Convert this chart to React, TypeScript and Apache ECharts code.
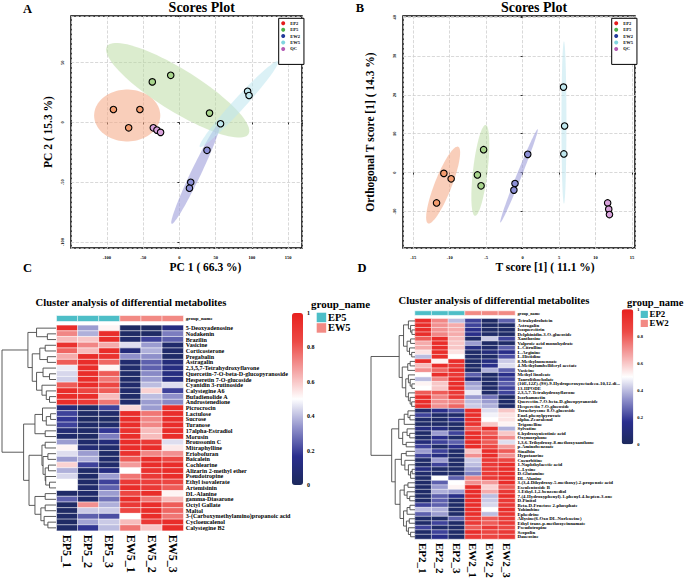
import React, { useEffect, useRef } from "react";
import * as echarts from "echarts";

const FONT = "'Liberation Serif', 'Times New Roman', serif";

// ---------- Scores plots ----------
const groups = ["EP2", "EP5", "EW2", "EW5", "QC"];
const legendColors = ["#E41A1C", "#4DAF4A", "#23399B", "#80D5DF", "#B45CB4"];
const pointColors = ["#F39C6E", "#A8D58C", "#8C90D6", "#BFE7EE", "#D9A3DC"];
const ellipseColors = [
  "rgba(244,165,130,0.55)",
  "rgba(184,218,158,0.5)",
  "rgba(150,150,215,0.55)",
  "rgba(190,230,238,0.55)",
];

// PCA scores [PC1, PC2]
const pcaEP2 = [[-91, 10.8], [-54.5, 10.8], [-70, -4.5]];
const pcaEP5 = [[-37.4, 33.9], [-12, 39.4], [41.5, 7.8]];
const pcaEW2 = [[38, -23.3], [15.6, -50], [13.8, -55]];
const pcaEW5 = [[94, 26], [96, 22.5], [56.7, -1.1]];
const pcaQC = [[-36, -4.5], [-31, -6.4], [-26, -8.3]];
// ellipses [cx, cy, ux, uy, vx, vy] (data units, two semi-axis vectors)
const pcaEllipseEP2 = [-72, 5.8, 45.6, 0, 0, 21.7];
const pcaEllipseEP5 = [-2.4, 26.9, 97.5, -36.7, 15.4, 14.8];
const pcaEllipseEW2 = [22.5, -42.7, 33.2, 42.1, 6.2, -1.8];
const pcaEllipseEW5 = [82, 15.3, 53.9, 35.8, 6.1, -3.4];
const pcaTickStep = [50, 50];

// OPLS-DA scores [T score, orthogonal T score]
const oplsEP2 = [[-10.8, -0.2], [-9.8, -1.6], [-11.8, -7.8]];
const oplsEP5 = [[-5.35, 5.9], [-6.2, -0.6], [-5.7, -3.4]];
const oplsEW2 = [[0.7, 4.7], [-1.05, -2.8], [-1.2, -4.5]];
const oplsEW5 = [[5.6, 22.0], [5.75, 12.0], [5.65, 4.8]];
const oplsQC = [[11.65, -7.8], [11.8, -9.4], [11.9, -10.8]];
const oplsEllipseEP2 = [-10.9, -3.2, 2.06, 9.87, 1.09, -0.8];
const oplsEllipseEP5 = [-5.8, 0.57, 0.73, 11.7, 0.99, -0.22];
const oplsEllipseEW2 = [-0.5, -0.85, 2.56, 12.0, 0.32, -0.24];
const oplsEllipseEW5 = [5.66, 12.9, 0, 20.9, 0.34, 0];
const oplsTickStep = [5, 10];

// ---------- Heatmap C ----------
const colsC = ["EP5_1", "EP5_2", "EP5_3", "EW5_1", "EW5_2", "EW5_3"];
const groupC = ["EP5", "EP5", "EP5", "EW5", "EW5", "EW5"];
const rowsC = [
  "5-Deoxyadenosine", "Nodakenin", "Brazilin", "Vasicine", "Corticosterone", "Pregabalin",
  "Astragalin", "2,3,5,7-Tetrahydroxyflavone", "Quercetin-7-O-beta-D-glucopyranoside",
  "Hesperetin 7-O-glucoside", "Cyanidin 3-rutinoside", "Calystegine A6", "Bufadienolide A",
  "Androstenedione", "Picrocrocin", "Lactulose", "Sucrose", "Turanose", "17alpha-Estradiol",
  "Morusin", "Broussonin C", "Mitraphylline", "Eriobofuran", "Baicalein", "Cochlearine",
  "Alizarin 2-methyl ether", "Pseudotropine", "Ethyl isovalerate", "Artemisinin", "DL-Alanine",
  "gamma-Diasarone", "Octyl Gallate", "Maltol", "3-(Carboxymethylamino)propanoic acid",
  "Cycloeucalenol", "Calystegine B2",
];
const valuesC = [
  [0.95, 0.35, 0.52, 0.02, 0.02, 0.12],
  [0.72, 0.38, 0.95, 0.03, 0.03, 0.3],
  [0.62, 0.6, 0.95, 0.05, 0.2, 0.25],
  [0.93, 0.72, 0.65, 0.45, 0.35, 0.05],
  [0.78, 0.62, 0.95, 0.1, 0.38, 0.05],
  [0.65, 0.95, 0.93, 0.33, 0.33, 0.04],
  [0.8, 0.95, 0.78, 0.06, 0.25, 0.1],
  [0.47, 0.95, 0.52, 0.05, 0.25, 0.12],
  [0.44, 0.95, 0.8, 0.04, 0.32, 0.12],
  [0.43, 0.95, 0.75, 0.04, 0.35, 0.12],
  [0.8, 0.95, 0.85, 0.05, 0.4, 0.45],
  [0.95, 0.85, 0.8, 0.05, 0.58, 0.2],
  [0.95, 0.95, 0.62, 0.04, 0.4, 0.33],
  [0.95, 0.9, 0.75, 0.05, 0.35, 0.32],
  [0.1, 0.03, 0.2, 0.57, 0.35, 0.95],
  [0.2, 0.03, 0.05, 0.95, 0.75, 0.95],
  [0.18, 0.02, 0.03, 0.95, 0.72, 0.95],
  [0.2, 0.04, 0.05, 0.95, 0.72, 0.95],
  [0.08, 0.04, 0.18, 0.93, 0.62, 0.95],
  [0.05, 0.03, 0.3, 0.95, 0.62, 0.95],
  [0.35, 0.05, 0.1, 0.95, 0.9, 0.45],
  [0.52, 0.08, 0.05, 0.95, 0.95, 0.54],
  [0.45, 0.35, 0.04, 0.93, 0.72, 0.7],
  [0.35, 0.38, 0.05, 0.8, 0.95, 0.85],
  [0.58, 0.2, 0.05, 0.68, 0.95, 0.95],
  [0.38, 0.04, 0.12, 0.5, 0.93, 0.95],
  [0.44, 0.04, 0.35, 0.75, 0.9, 0.95],
  [0.5, 0.04, 0.2, 0.9, 0.88, 0.85],
  [0.5, 0.05, 0.25, 0.95, 0.9, 0.8],
  [0.04, 0.05, 0.35, 0.85, 0.95, 0.52],
  [0.25, 0.05, 0.28, 0.95, 0.75, 0.62],
  [0.03, 0.7, 0.38, 0.9, 0.95, 0.8],
  [0.03, 0.42, 0.42, 0.85, 0.95, 0.78],
  [0.04, 0.25, 0.22, 0.5, 0.95, 0.75],
  [0.03, 0.36, 0.42, 0.62, 0.9, 0.95],
  [0.04, 0.18, 0.4, 0.75, 0.6, 0.95],
];
type Tree = number | [number, Tree, Tree];
const treeC: Tree = [10,
  [5.2, [3.6, 0, [1.6, 1, 2]],
    [4.4, [3.0, [2.0, 3, 4], [1.6, 5, 6]],
      [3.6, [2.4, 7, [1.2, 8, 9]], [2.6, 10, [1.8, 11, [1.2, 12, 13]]]]]],
  [6.0, [3.9, [2.5, 14, [1.8, [1.0, 15, 16], 17]], [2.0, 18, 19]],
    [5.0, [2.6, [2.0, 20, 21], [2.4, [1.5, 22, 23], [2.0, [1.4, 24, 25], [1.9, 26, [1.2, 27, 28]]]]],
      [3.9, [2.0, 29, 30], [2.8, [2.0, 31, 32], [2.2, 33, [1.5, 34, 35]]]]]]];

// ---------- Heatmap D ----------
const colsD = ["EP2_1", "EP2_2", "EP2_3", "EW2_1", "EW2_2", "EW2_3"];
const groupD = ["EP2", "EP2", "EP2", "EW2", "EW2", "EW2"];
const rowsD = [
  "Tetrahydrolutein", "Astragalin", "Isoquercitrin", "Delphinidin-3-O-glucoside", "Xanthosine",
  "Valproic acid monohydrate", "L-Citrulline", "L-Arginine", "L-Histidine", "8-Methylnonenoate",
  "4-Methylumbelliferyl acetate", "Vasicine", "Methyl linoleate", "Taurolithocholate",
  "(10E,12Z)-(9S)-9-Hydroperoxyoctadeca-10,12-di...", "13-HPODE", "2,3,5,7-Tetrahydroxyflavone",
  "Isorhamnetin", "Quercetin-7-O-beta-D-glucopyranoside", "Hesperetin 7-O-glucoside",
  "Torachrysone 8-O-glucoside", "Enol-phenylpyruvate", "alpha-Zearalenol", "Trigonelline",
  "Sylvatine", "6-hydroxynicotinic acid", "Oxymorphone", "1,3,6-Trihydroxy-8-methoxyxanthone",
  "p-Aminobenzoate", "Sinalbin", "Hypotaurine", "Cucurbitine", "1-Naphthylacetic acid",
  "L-Lysine", "D-Glutamine", "DL-Alanine", "3-(3,4-Dihydroxy-5-methoxy)-2-propenoic acid",
  "Esculentoside B", "3-Ethyl-1,2-benzenediol", "7-(4-Hydroxyphenyl)-1-phenyl-4-hepten-3-one",
  "D-Pinitol", "Beta-D-Fructose 2-phosphate", "Yohimbine", "Ephedrine",
  "Allysine(6-Oxo DL-Norleucine)", "Ethyl trans-p-methoxycinnamate", "Pseudotropine", "Scopolin",
  "Daucosine",
];
const valuesD = [
  [0.95, 0.72, 0.4, 0.2, 0.03, 0.25],
  [0.95, 0.7, 0.65, 0.2, 0.03, 0.04],
  [0.95, 0.7, 0.65, 0.15, 0.03, 0.04],
  [0.95, 0.72, 0.65, 0.15, 0.04, 0.04],
  [0.8, 0.95, 0.62, 0.04, 0.42, 0.2],
  [0.65, 0.95, 0.6, 0.35, 0.03, 0.04],
  [0.65, 0.95, 0.6, 0.12, 0.05, 0.25],
  [0.55, 0.95, 0.55, 0.04, 0.1, 0.15],
  [0.4, 0.95, 0.5, 0.04, 0.04, 0.22],
  [0.95, 0.52, 0.95, 0.04, 0.12, 0.42],
  [0.62, 0.95, 0.9, 0.04, 0.15, 0.45],
  [0.7, 0.78, 0.95, 0.04, 0.38, 0.25],
  [0.5, 0.95, 0.9, 0.25, 0.04, 0.15],
  [0.4, 0.72, 0.95, 0.1, 0.04, 0.2],
  [0.52, 0.6, 0.95, 0.35, 0.04, 0.25],
  [0.5, 0.6, 0.95, 0.38, 0.04, 0.2],
  [0.8, 0.8, 0.9, 0.47, 0.04, 0.2],
  [0.95, 0.72, 0.9, 0.35, 0.28, 0.04],
  [0.95, 0.7, 0.72, 0.4, 0.35, 0.04],
  [0.95, 0.7, 0.78, 0.42, 0.38, 0.04],
  [0.05, 0.15, 0.22, 0.95, 0.45, 0.6],
  [0.2, 0.04, 0.05, 0.95, 0.48, 0.55],
  [0.04, 0.04, 0.15, 0.95, 0.5, 0.55],
  [0.04, 0.04, 0.04, 0.93, 0.6, 0.52],
  [0.12, 0.12, 0.04, 0.8, 0.95, 0.38],
  [0.04, 0.35, 0.2, 0.95, 0.8, 0.6],
  [0.04, 0.15, 0.04, 0.95, 0.85, 0.7],
  [0.1, 0.2, 0.25, 0.95, 0.8, 0.45],
  [0.2, 0.04, 0.15, 0.95, 0.85, 0.68],
  [0.35, 0.2, 0.04, 0.6, 0.95, 0.8],
  [0.2, 0.12, 0.04, 0.7, 0.95, 0.7],
  [0.04, 0.35, 0.04, 0.42, 0.9, 0.85],
  [0.04, 0.2, 0.04, 0.4, 0.9, 0.95],
  [0.12, 0.04, 0.04, 0.35, 0.9, 0.95],
  [0.05, 0.04, 0.04, 0.3, 0.9, 0.95],
  [0.04, 0.5, 0.25, 0.72, 0.9, 0.95],
  [0.04, 0.25, 0.5, 0.7, 0.68, 0.95],
  [0.04, 0.35, 0.52, 0.95, 0.58, 0.8],
  [0.04, 0.38, 0.35, 0.95, 0.65, 0.9],
  [0.04, 0.25, 0.15, 0.95, 0.4, 0.95],
  [0.04, 0.25, 0.04, 0.95, 0.42, 0.9],
  [0.2, 0.25, 0.04, 0.95, 0.44, 0.9],
  [0.4, 0.38, 0.04, 0.95, 0.5, 0.95],
  [0.25, 0.35, 0.04, 0.95, 0.4, 0.92],
  [0.04, 0.04, 0.25, 0.9, 0.8, 0.9],
  [0.04, 0.2, 0.04, 0.9, 0.8, 0.9],
  [0.2, 0.04, 0.04, 0.8, 0.9, 0.85],
  [0.04, 0.2, 0.04, 0.95, 0.85, 0.9],
  [0.04, 0.15, 0.04, 0.9, 0.85, 0.9],
];
const treeD: Tree = [10,
  [3.6,
    [2.6, [1.5, 0, [1.0, 1, [0.7, 2, 3]]], [1.8, [1.0, 4, 5], [1.25, 6, [0.75, 7, 8]]]],
    [2.9, [1.65, [1.1, 9, 10], 11],
      [2.1, [1.5, 12, [1.1, 13, [0.7, 14, 15]]], [1.5, 16, [1.1, 17, [0.75, 18, 19]]]]]],
  [5.3,
    [3.7, [2.45, [1.6, 20, [1.15, 21, 22]], 23], [2.8, [1.8, 24, [1.2, 25, 26]], [2.0, 27, 28]]],
    [4.5,
      [3.1, [2.0, 29, 30], [2.3, 31, [1.5, 32, [1.0, [0.65, 33, 34], 35]]]],
      [3.4, [2.45, [1.6, 36, 37], [1.8, 38, [1.2, 39, 40]]],
        [2.6, [1.8, [1.15, 41, 42], 43], [1.95, [1.3, 44, 45], [1.5, 46, [1.0, 47, 48]]]]]]]];

const colorbarTicks = [0, 0.2, 0.4, 0.6, 0.8, 1];
const heatColors = ["#1C2A5C", "#2A2E8E", "#9091CB", "#FFFFFF", "#F4A2A2", "#EC4A46", "#E8201E"];
const groupBarColors = ["#4DBEC7", "#F28A84"];

function dendroSegments(t: Tree, out: number[][][]): [number, number] {
  if (typeof t === "number") return [0, t];
  const [h, l, r] = t;
  const a = dendroSegments(l, out);
  const b = dendroSegments(r, out);
  out.push([[a[0], a[1]], [h, a[1]], [h, b[1]], [b[0], b[1]]]);
  return [h, (a[1] + b[1]) / 2];
}

export default function App() {
  const ref = useRef<HTMLDivElement>(null);
  useEffect(() => {
    if (!ref.current) return;
    const chart = echarts.init(ref.current, undefined, { renderer: "svg" });

    const pcaSets = [pcaEP2, pcaEP5, pcaEW2, pcaEW5, pcaQC];
    const oplsSets = [oplsEP2, oplsEP5, oplsEW2, oplsEW5, oplsQC];
    const pcaEll = [pcaEllipseEP2, pcaEllipseEP5, pcaEllipseEW2, pcaEllipseEW5];
    const oplsEll = [oplsEllipseEP2, oplsEllipseEP5, oplsEllipseEW2, oplsEllipseEW5];

    const ellipseRender = (params: any, api: any) => {
      const v = [0, 1, 2, 3, 4, 5].map((i) => api.value(i) as number);
      const gi = api.value(6) as number;
      const pts: number[][] = [];
      for (let k = 0; k < 90; k++) {
        const t = (k / 90) * Math.PI * 2;
        pts.push(api.coord([v[0] + Math.cos(t) * v[2] + Math.sin(t) * v[4], v[1] + Math.cos(t) * v[3] + Math.sin(t) * v[5]]));
      }
      return { type: "polygon", shape: { points: pts }, style: { fill: ellipseColors[gi] } };
    };

    const lbl = { fontFamily: FONT, fontWeight: "bold" as const, color: "#000" };
    const stepFmt = (step: number) => (v: number) => {
      const q = v / step;
      return Math.abs(q - Math.round(q)) < 1e-6 ? String(Math.round(v * 1000) / 1000) : "";
    };

    const scoreAxes = (gi: number, xr: number[], yr: number[], steps: number[], xName: string, yName: string, xPad: number[], yPad: number[]) => {
      const common = {
        gridIndex: gi,
        type: "value" as const,
        axisLine: { show: false },
        axisTick: { show: true, length: 2, lineStyle: { color: "#000", width: 0.8 } },
        splitLine: { show: true, lineStyle: { type: "dashed" as const, color: "#cfcfcf", width: 0.8 } },
      };
      return {
        x: {
          ...common, min: xr[0], max: xr[1], splitNumber: Math.round((xr[1] - xr[0]) / steps[0]),
          axisLabel: { ...lbl, fontSize: 4.5, margin: 7, formatter: stepFmt(steps[0]) },
          name: xName, nameLocation: "middle", nameGap: 13,
          nameTextStyle: { ...lbl, fontSize: 11.5, padding: xPad },
        },
        y: {
          ...common, min: yr[0], max: yr[1], splitNumber: Math.round((yr[1] - yr[0]) / steps[1]),
          axisLabel: { ...lbl, fontSize: 4.5, margin: 6, rotate: 90, formatter: stepFmt(steps[1]) },
          name: yName, nameLocation: "middle", nameGap: 17,
          nameTextStyle: { ...lbl, fontSize: 11.5, padding: yPad },
        },
      };
    };
    const axA = scoreAxes(0, [-149.5, 169], [-105, 89], pcaTickStep, "PC 1 ( 66.3 %)", "PC 2 ( 15.3 %)", [0, 0, 0, 38], [26, 0, 0, 0]);
    const axB = scoreAxes(1, [-16.4, 15.4], [-19.4, 40.3], oplsTickStep, "T score [1] ( 11.1 %)", "Orthogonal T score [1] ( 14.3 %)", [0, 0, 0, 52], [0, 0, 10, 0]);

    const hmX = (gi: number, cols: string[], fs: number) => ({
      gridIndex: gi, type: "category" as const, data: cols, position: "bottom" as const,
      axisLine: { show: false }, axisTick: { show: false },
      axisLabel: { ...lbl, fontSize: fs, rotate: -90, margin: 4, interval: 0 },
    });
    const hmY = (gi: number, rows: string[], fs: number) => ({
      gridIndex: gi, type: "category" as const, data: rows, inverse: true, position: "right" as const,
      axisLine: { show: false }, axisTick: { show: false },
      axisLabel: { ...lbl, fontSize: fs, margin: 2.5, interval: 0 },
    });
    const barX = (gi: number, cols: string[]) => ({ gridIndex: gi, type: "category" as const, data: cols, show: false });
    const barY = (gi: number, fs: number) => ({
      gridIndex: gi, type: "category" as const, data: ["group_name"], position: "right" as const,
      axisLine: { show: false }, axisTick: { show: false },
      axisLabel: { ...lbl, fontSize: fs, margin: 2.5 },
    });
    const dX = (gi: number, t: Tree) => ({ gridIndex: gi, type: "value" as const, min: 0, max: (t as any)[0], inverse: true, show: false });
    const dY = (gi: number, n: number) => ({ gridIndex: gi, type: "value" as const, min: -0.5, max: n - 0.5, inverse: true, show: false });
    const cbX = (gi: number) => ({ gridIndex: gi, type: "value" as const, show: false });
    const cbY = (gi: number, fs: number) => ({
      gridIndex: gi, type: "value" as const, min: colorbarTicks[0], max: colorbarTicks[colorbarTicks.length - 1],
      interval: colorbarTicks[1] - colorbarTicks[0], position: "right" as const,
      axisLine: { show: false }, axisTick: { show: false }, splitLine: { show: false },
      axisLabel: { ...lbl, fontSize: fs, margin: 4 },
    });

    const segC: number[][][] = [];
    dendroSegments(treeC, segC);
    const segD: number[][][] = [];
    dendroSegments(treeD, segD);

    const hmData = (vals: number[][]) => {
      const d: number[][] = [];
      vals.forEach((row, r) => row.forEach((v, c) => d.push([c, r, v])));
      return d;
    };
    const barData = (g: string[]) => g.map((name, c) => [c, 0, name === g[0] ? 0 : 1]);

    const series: any[] = [];
    series.push({
      type: "custom", xAxisIndex: 0, yAxisIndex: 0, renderItem: ellipseRender, z: 1, silent: true,
      encode: { x: 0, y: 1 }, data: pcaEll.map((e, i) => [...e, i]),
    });
    series.push({
      type: "custom", xAxisIndex: 1, yAxisIndex: 1, renderItem: ellipseRender, z: 1, silent: true,
      encode: { x: 0, y: 1 }, data: oplsEll.map((e, i) => [...e, i]),
    });
    groups.forEach((g, i) => {
      const base = {
        type: "scatter", name: g, symbolSize: 6.5, z: 3,
        itemStyle: { color: pointColors[i], borderColor: "#000", borderWidth: 1.1, opacity: 1 },
      };
      series.push({ ...base, xAxisIndex: 0, yAxisIndex: 0, data: pcaSets[i] });
      series.push({ ...base, xAxisIndex: 1, yAxisIndex: 1, data: oplsSets[i] });
    });
    const idxHmC = series.length;
    series.push({ type: "heatmap", xAxisIndex: 2, yAxisIndex: 2, data: hmData(valuesC), itemStyle: { borderColor: "#fff", borderWidth: 0.6 } });
    const idxBarC = series.length;
    series.push({ type: "heatmap", xAxisIndex: 3, yAxisIndex: 3, data: barData(groupC), itemStyle: { borderColor: "#fff", borderWidth: 0.6 } });
    series.push({
      type: "lines", coordinateSystem: "cartesian2d", xAxisIndex: 4, yAxisIndex: 4, polyline: true, silent: true,
      lineStyle: { color: "#4a4a4a", width: 0.9, opacity: 1 }, data: segC.map((c) => ({ coords: c })),
    });
    series.push({ type: "scatter", xAxisIndex: 5, yAxisIndex: 5, data: [] });
    const idxHmD = series.length;
    series.push({ type: "heatmap", xAxisIndex: 6, yAxisIndex: 6, data: hmData(valuesD), itemStyle: { borderColor: "#fff", borderWidth: 0.5 } });
    const idxBarD = series.length;
    series.push({ type: "heatmap", xAxisIndex: 7, yAxisIndex: 7, data: barData(groupD), itemStyle: { borderColor: "#fff", borderWidth: 0.6 } });
    series.push({
      type: "lines", coordinateSystem: "cartesian2d", xAxisIndex: 8, yAxisIndex: 8, polyline: true, silent: true,
      lineStyle: { color: "#4a4a4a", width: 0.9, opacity: 1 }, data: segD.map((c) => ({ coords: c })),
    });
    series.push({ type: "scatter", xAxisIndex: 9, yAxisIndex: 9, data: [] });

    const legendBase = {
      orient: "vertical", selectedMode: false, icon: "circle", itemWidth: 4, itemHeight: 4, itemGap: 1.4,
      borderColor: "#000", borderWidth: 1, backgroundColor: "#fff", padding: [2.5, 4, 13, 2.5],
      textStyle: { ...lbl, fontSize: 4.5, lineHeight: 5 },
      data: groups.map((g, i) => ({ name: g, itemStyle: { color: legendColors[i], borderWidth: 0 } })),
    };

    const txt = (x: number, y: number, text: string, fs: number, align = "center") => ({
      type: "text", x, y, style: { text, fontSize: fs, fontFamily: FONT, fontWeight: "bold", fill: "#000", align, verticalAlign: "middle" },
    });

    const option: any = {
      animation: false,
      backgroundColor: "#fff",
      grid: [
        { left: 71, top: 16, width: 231, height: 232, show: true, borderColor: "#000", borderWidth: 1.5, backgroundColor: "transparent" },
        { left: 403, top: 16, width: 232, height: 232, show: true, borderColor: "#000", borderWidth: 1.5, backgroundColor: "transparent" },
        { left: 56.7, top: 325.3, width: 126.6, height: 205.4 },
        { left: 56.7, top: 315.7, width: 126.6, height: 5.6 },
        { left: 2, top: 325.3, width: 54, height: 205.4 },
        { left: 292, top: 313, width: 11, height: 172 },
        { left: 415, top: 318.7, width: 100, height: 220.3 },
        { left: 415, top: 311, width: 100, height: 4.2 },
        { left: 371, top: 318.7, width: 44, height: 220.3 },
        { left: 621.7, top: 309.3, width: 11.6, height: 135 },
      ],
      xAxis: [axA.x, axB.x, hmX(2, colsC, 12), barX(3, colsC), dX(4, treeC), cbX(5), hmX(6, colsD, 11), barX(7, colsD), dX(8, treeD), cbX(9)],
      yAxis: [axA.y, axB.y, hmY(2, rowsC, 6.1), barY(3, 5), dY(4, rowsC.length), cbY(5, 6), hmY(6, rowsD, 4.8), barY(7, 4.2), dY(8, rowsD.length), cbY(9, 4.5)],
      visualMap: [
        { type: "continuous", seriesIndex: idxHmC, min: 0, max: 1, inRange: { color: heatColors }, left: 292, top: 313, itemWidth: 11, itemHeight: 172, calculable: false, padding: 0, hoverLink: false },
        { type: "continuous", seriesIndex: idxHmD, min: 0, max: 1, inRange: { color: heatColors }, left: 621.7, top: 309.3, itemWidth: 11.6, itemHeight: 135, calculable: false, padding: 0, hoverLink: false },
        { type: "piecewise", seriesIndex: [idxBarC, idxBarD], show: false, pieces: [{ value: 0, color: groupBarColors[0] }, { value: 1, color: groupBarColors[1] }] },
      ],
      legend: [
        { ...legendBase, left: 278.7, top: 18.3 },
        { ...legendBase, left: 611.7, top: 18.3 },
      ],
      graphic: [
        txt(27.5, 9, "A", 12.5),
        txt(360, 8, "B", 12.5),
        txt(27.5, 268, "C", 12.5),
        txt(362, 268, "D", 12.5),
        txt(201.7, 7.5, "Scores Plot", 14),
        txt(534, 7.5, "Scores Plot", 14),
        txt(131, 302.5, "Cluster analysis of differential metabolites", 10.6),
        txt(494, 300, "Cluster analysis of differential metabolites", 10.6),
        txt(311, 303.5, "group_name", 11, "left"),
        { type: "rect", shape: { x: 316.7, y: 312.7, width: 9.5, height: 9.5 }, style: { fill: groupBarColors[0] } },
        { type: "rect", shape: { x: 316.7, y: 323.2, width: 9.5, height: 9.5 }, style: { fill: groupBarColors[1] } },
        txt(328, 317.4, groupC[0], 10.4, "left"),
        txt(328, 327.9, groupC[3], 10.4, "left"),
        txt(627, 302.5, "group_name", 10.5, "left"),
        { type: "rect", shape: { x: 640.7, y: 310.8, width: 7.2, height: 7.2 }, style: { fill: groupBarColors[0] } },
        { type: "rect", shape: { x: 640.7, y: 319.8, width: 7.2, height: 7.2 }, style: { fill: groupBarColors[1] } },
        txt(649.5, 314.4, groupD[0], 8.9, "left"),
        txt(649.5, 323.4, groupD[3], 8.9, "left"),
      ],
      series,
    };
    chart.setOption(option);
    return () => chart.dispose();
  }, []);
  return <div ref={ref} style={{ position: "fixed", left: 0, top: 0, width: 685, height: 581, background: "#fff" }} />;
}
